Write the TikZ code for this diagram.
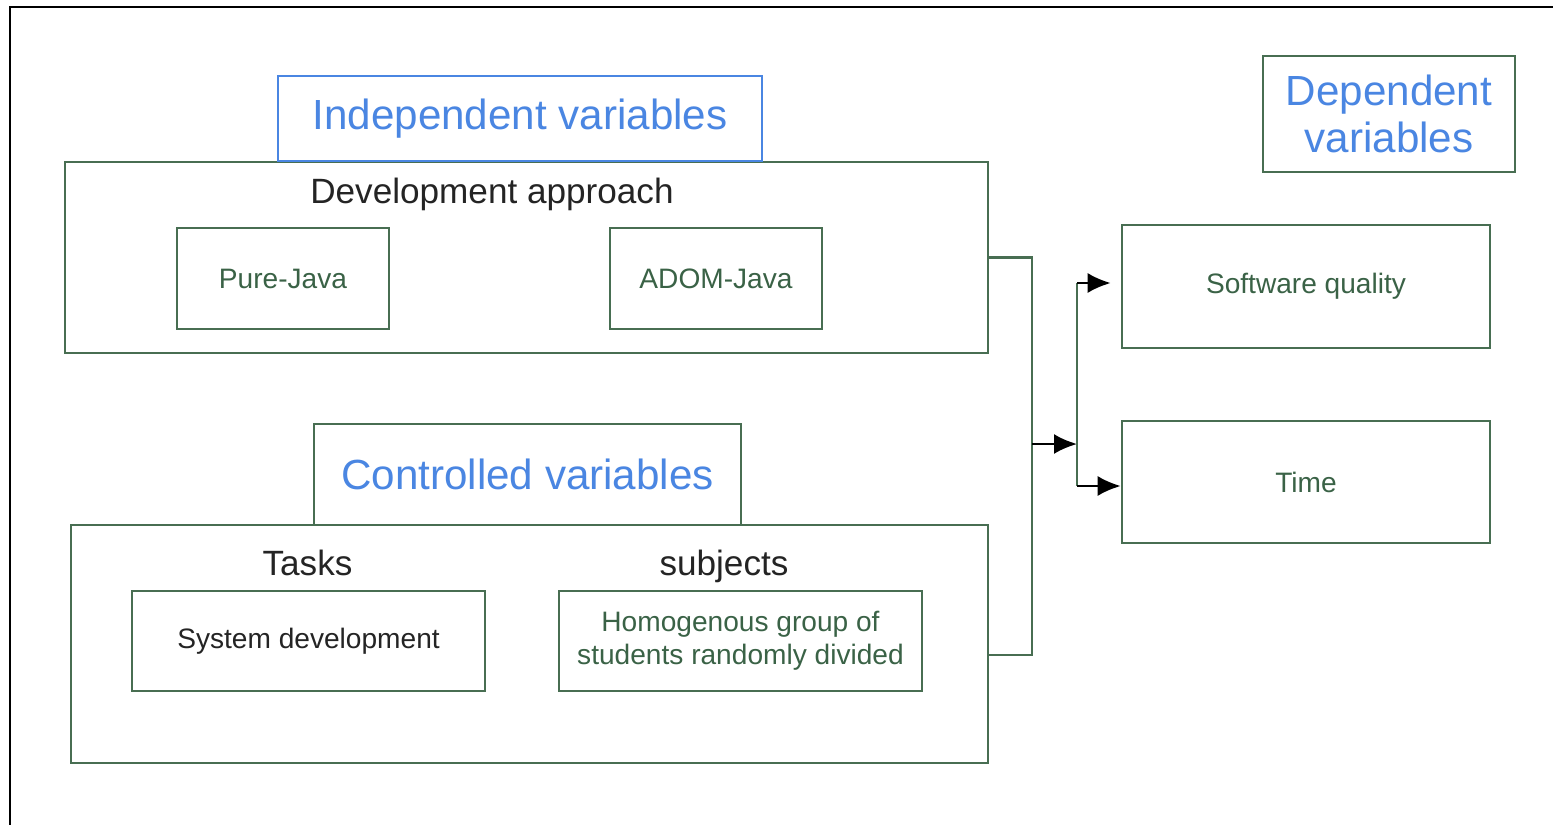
\documentclass[tikz,border=0pt]{standalone}
\usepackage{fontspec}
\setmainfont{Liberation Sans}
\usepackage{xcolor}
\usepackage{tikz}
\usetikzlibrary{arrows.meta, positioning}

\definecolor{boxgreen}{RGB}{72,110,82}
\definecolor{txtgreen}{RGB}{58,98,70}
\definecolor{headblue}{RGB}{74,134,226}
\definecolor{darktext}{RGB}{36,36,36}

\begin{document}
\begin{tikzpicture}[
      x=0.02cm, y=-0.02cm,
      box/.style={draw=boxgreen, line width=1.5pt, inner sep=0pt, align=center},
      head/.style={box, text=headblue, font=\fontsize{24}{27}\selectfont},
      group/.style={box},
      item/.style={box, text=txtgreen, font=\fontsize{16}{18.7}\selectfont},
      title/.style={inner sep=0pt, anchor=base, text=darktext, font=\fontsize{20}{24}\selectfont},
      link/.style={draw=boxgreen, line width=1.5pt},
      arr/.style={line width=1.3pt, -{Latex[length=0.46cm, width=0.4cm]}}
    ]
    \useasboundingbox (0,0) rectangle (1553,825);
    \draw[line width=1.2pt] (10,825) -- (10,7) -- (1553,7);

    % independent variables
    \node[group, minimum width=18.46cm, minimum height=3.82cm] (dev) at (526.5,257.5) {};
    \node[head, draw=headblue, fill=white, minimum width=9.68cm, minimum height=1.7cm] (indep) at (520,118.5) {Independent variables};
    \node[title] (devtitle) at (492,203) {Development approach};
    \node[item, minimum width=4.24cm, minimum height=2.02cm] (pure) at (283,278.5) {Pure-Java};
    \node[item, minimum width=4.24cm, minimum height=2.02cm] (adom) at (716,278.5) {ADOM-Java};

    % controlled variables
    \node[group, minimum width=18.34cm, minimum height=4.76cm] (ctrl) at (529.5,644) {};
    \node[head, fill=white, minimum width=8.54cm, minimum height=2.02cm] (ctrlhead) at (527.5,474.5) {Controlled variables};
    \node[title] (tasks) at (307.5,575) {Tasks};
    \node[title] (subjects) at (724,575) {subjects};
    \node[item, text=darktext, minimum width=7.06cm, minimum height=2cm] (sysdev) at (308.5,641) {System development};
    \node[item, minimum width=7.26cm, minimum height=2cm] (homog) at (740.5,641) {Homogenous group of\\students randomly divided};

    % dependent variables
    \node[head, minimum width=5.04cm, minimum height=2.32cm] (dep) at (1389,114) {Dependent\\variables};
    \node[item, minimum width=7.36cm, minimum height=2.46cm] (softq) at (1306,286.5) {Software quality};
    \node[item, minimum width=7.36cm, minimum height=2.44cm] (time) at (1306,482) {Time};

    \coordinate (bus) at (1032,444);
    \coordinate (fork) at (1077,444);
    \draw[link] (dev.east) -| (bus) |- ([yshift=-0.22cm]ctrl.east);
    \draw[arr] (bus) -- (fork);
    \draw[link] ([yshift=0.07cm]fork |- softq.west) -- ([yshift=-0.08cm]fork |- time.west);
    \draw[arr] ([yshift=0.07cm]fork |- softq.west) -- ([xshift=-0.2cm, yshift=0.07cm]softq.west);
    \draw[arr] ([yshift=-0.08cm]fork |- time.west) -- ([yshift=-0.08cm]time.west);
  \end{tikzpicture}
\end{document}
